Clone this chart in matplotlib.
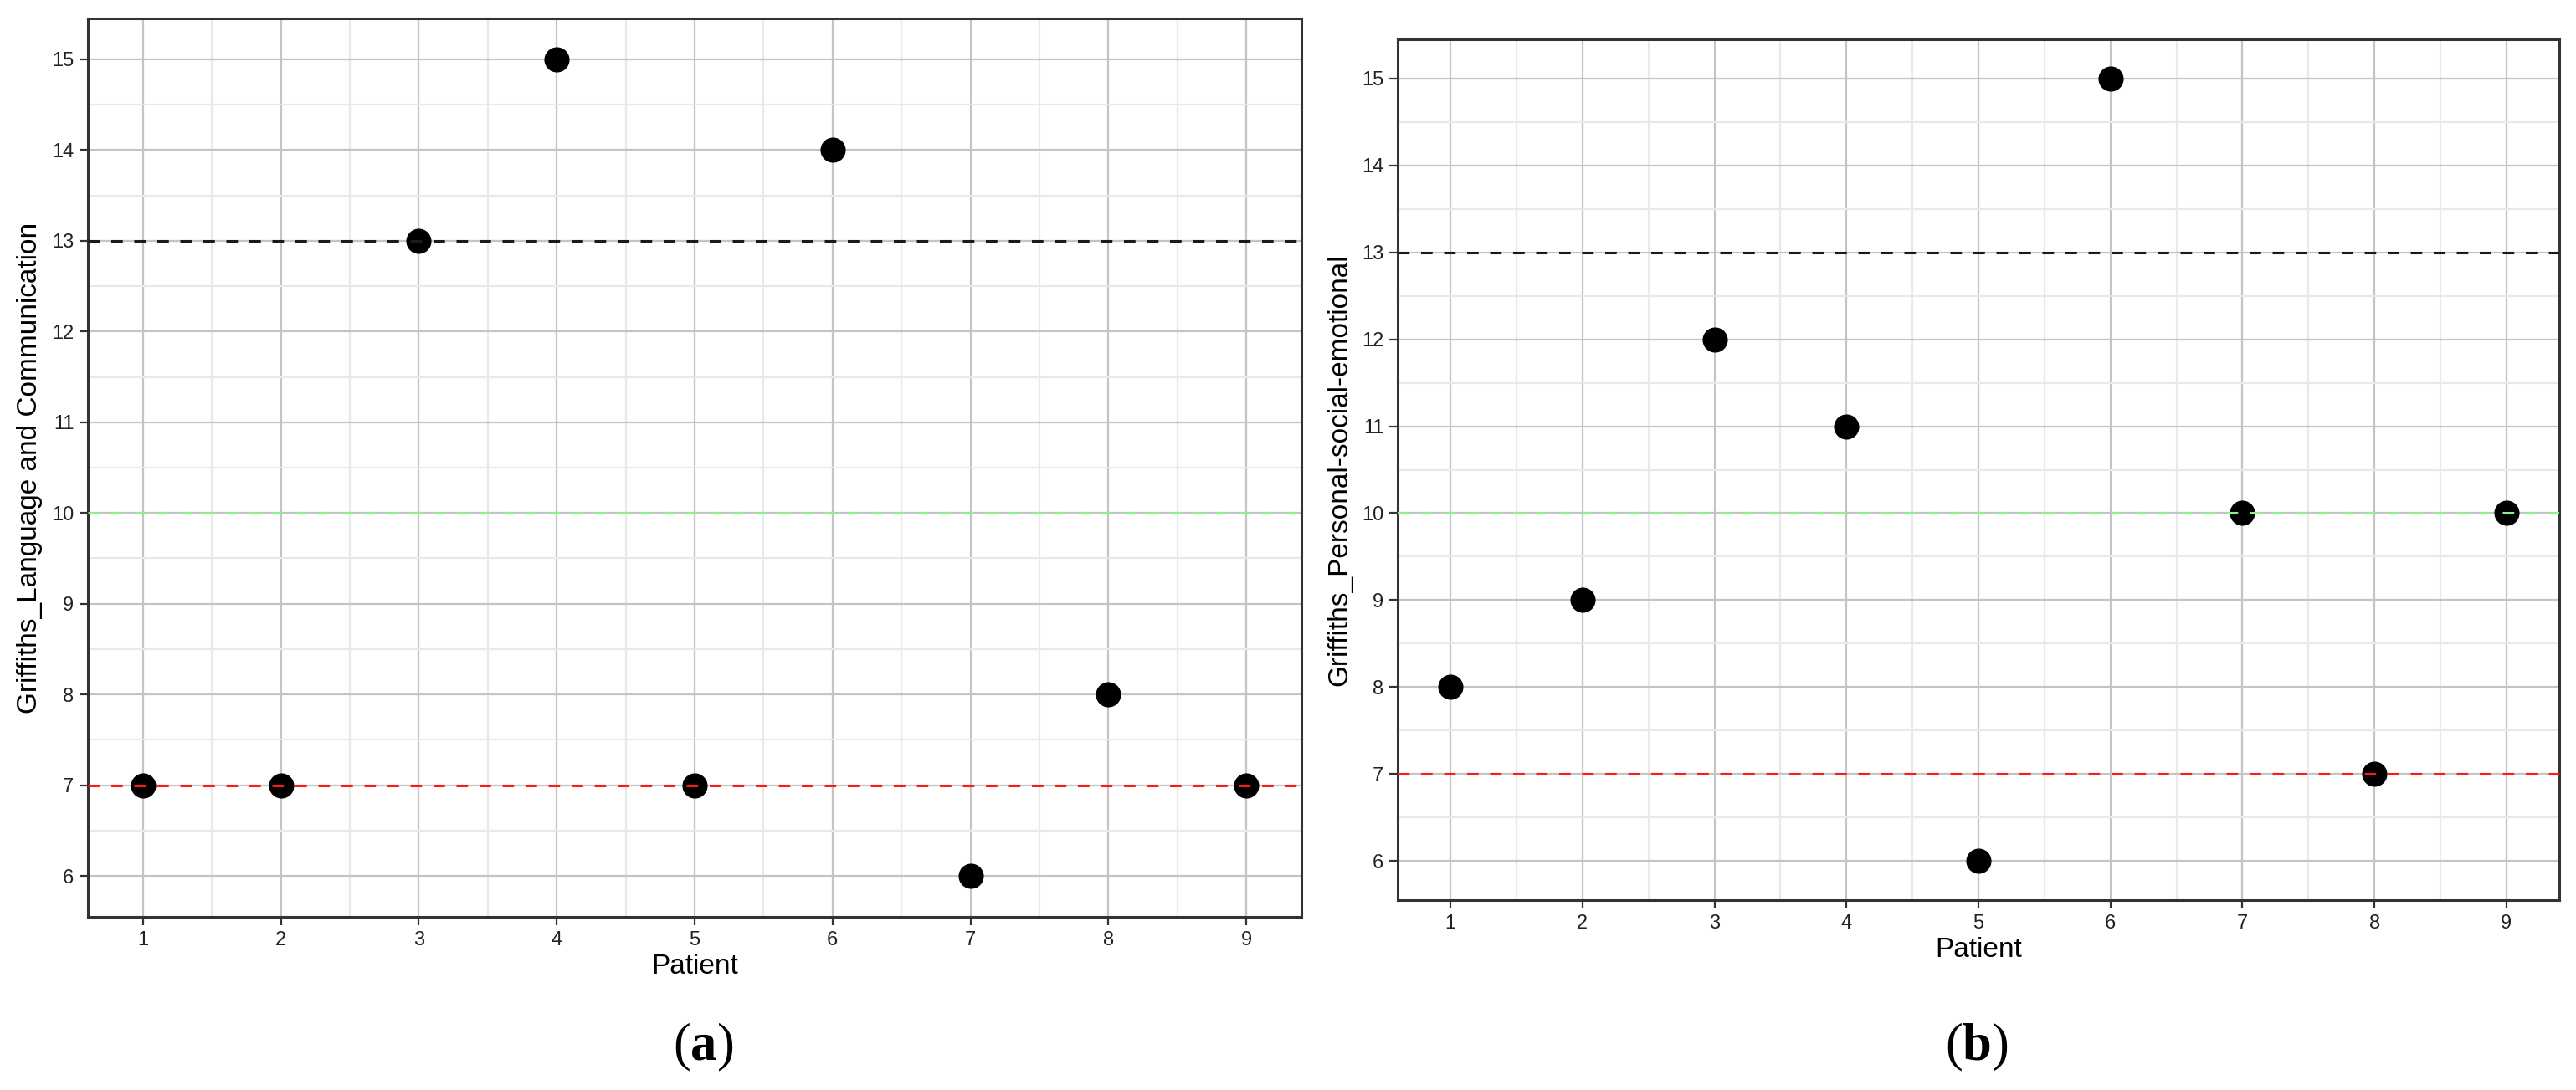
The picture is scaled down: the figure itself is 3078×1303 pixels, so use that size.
import matplotlib
matplotlib.use("Agg")
import matplotlib.pyplot as plt
from matplotlib.ticker import MultipleLocator

plt.rcParams["font.family"] = ["Liberation Sans", "DejaVu Sans"]
plt.rcParams["mathtext.fontset"] = "custom"
plt.rcParams["mathtext.rm"] = "Liberation Serif"
plt.rcParams["mathtext.bf"] = "Liberation Serif:bold"

# data
patients = [1, 2, 3, 4, 5, 6, 7, 8, 9]
language_comm = [7, 7, 13, 15, 7, 14, 6, 8, 7]
personal_social = [8, 9, 12, 11, 6, 15, 10, 7, 10]
ref_levels = [13, 10, 7]
ref_colors = ["#1a1a1a", "#90ee90", "#ff1a1a"]
ylabels = ["Griffiths_Language and Communication", "Griffiths_Personal-social-emotional"]
panel_tags = ["a", "b"]

W, H = 3078, 1303
fig = plt.figure(figsize=(W / 100, H / 100), dpi=100)
fig.patch.set_facecolor("white")


def px_axes(x0, y0, x1, y1):
    # pixel box (top-left origin) -> figure fraction axes
    return fig.add_axes([x0 / W, 1 - y1 / H, (x1 - x0) / W, (y1 - y0) / H])


def draw_panel(ax, values, ylabel):
    ax.scatter(patients, values, s=470, color="black", zorder=3, linewidths=0)
    for lvl, col in zip(ref_levels, ref_colors):
        ax.axhline(lvl, color=col, lw=2.2, dashes=(4.5, 4.5), zorder=4)

    ax.set_xlim(0.6, 9.4)
    ax.set_ylim(5.55, 15.45)
    ax.set_xticks(patients)
    ax.set_yticks(range(6, 16))
    ax.xaxis.set_minor_locator(MultipleLocator(0.5))
    ax.yaxis.set_minor_locator(MultipleLocator(0.5))
    ax.grid(True, which="major", color="#c4c4c4", lw=1.6, zorder=0)
    ax.grid(True, which="minor", color="#e9e9e9", lw=1.6, zorder=0)
    ax.set_axisbelow(True)

    ax.tick_params(which="major", length=7, width=1.6, color="#333333",
                   labelsize=17, labelcolor="#222222", pad=5)
    ax.tick_params(which="minor", length=0)
    for sp in ax.spines.values():
        sp.set_color("#333333")
        sp.set_linewidth(2.2)

    ax.set_xlabel("Patient", fontsize=24, labelpad=4)
    ax.set_ylabel(ylabel, fontsize=24, labelpad=8)


ax_a = px_axes(105, 22, 1555, 1096)
ax_b = px_axes(1670, 47, 3058, 1076)
draw_panel(ax_a, language_comm, ylabels[0])
draw_panel(ax_b, personal_social, ylabels[1])

for tag, xc in zip(panel_tags, [840, 2362]):
    fig.text(xc / W, 1 - 1252 / H, r"$\mathrm{(}\mathbf{" + tag + r"}\mathrm{)}$",
             ha="center", va="center", fontsize=45)

fig.savefig("out.png", dpi=100)
